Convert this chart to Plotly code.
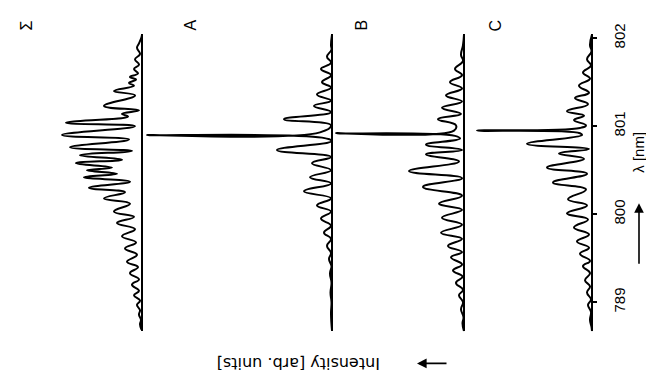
import plotly.graph_objects as go

# Wavelength (nm) and intensity (arb. units) of each emission spectrum
lam_sum = [802.04, 802.01, 801.94, 801.89, 801.82, 801.76, 801.70, 801.65, 801.60, 801.56,
           801.53, 801.49, 801.46, 801.40, 801.35, 801.23, 801.18, 801.14, 801.11, 801.04,
           801.00, 800.90, 800.85, 800.76, 800.72, 800.67, 800.62, 800.58, 800.53, 800.50,
           800.46, 800.42, 800.37, 800.30, 800.25, 800.18, 800.12, 800.03, 799.97, 799.90,
           799.83, 799.75, 799.68, 799.61, 799.54, 799.46, 799.40, 799.33, 799.26, 799.20,
           799.13, 799.08, 799.02, 798.97, 798.91, 798.86, 798.80, 798.75, 798.69]
int_sum = [0, 0.5, 3, 5, 2, 7, 3, 8, 4, 12,
           6, 13, 8, 28, 7, 38, 3, 20, 14, 76,
           7, 80, 13, 72, 10, 62, 20, 66, 30, 55,
           25, 58, 12, 53, 17, 38, 12, 28, 8, 25,
           7, 20, 6, 17, 5, 15, 4, 12, 3, 10,
           3, 8, 2, 5, 2, 3, 1, 2, 0.5]

lam_a = [802.04, 801.92, 801.87, 801.79, 801.72, 801.65, 801.58, 801.50, 801.44, 801.36,
         801.29, 801.23, 801.16, 801.08, 801.01, 800.93, 800.90, 800.87, 800.83, 800.73,
         800.65, 800.58, 800.50, 800.42, 800.35, 800.26, 800.18, 800.10, 800.03, 799.95,
         799.87, 799.79, 799.72, 799.64, 799.56, 799.49, 799.41, 799.33, 799.22, 799.11,
         799.00, 798.87, 798.68]
int_a = [0, 1, 0.5, 5, 1, 11, 1, 10, 1, 15,
         1, 18, 1, 48, 1, 12, 185, 10, 0.5, 55,
         1, 20, 1, 22, 1, 28, 1, 15, 1, 11,
         1, 8, 1, 5, 1, 3, 0.5, 2, 0.5, 1.5,
         0.5, 1, 0]

lam_b = [802.04, 801.92, 801.81, 801.74, 801.65, 801.58, 801.50, 801.43, 801.35, 801.28,
         801.21, 801.14, 801.08, 801.01, 800.95, 800.92, 800.89, 800.86, 800.79, 800.73,
         800.68, 800.60, 800.49, 800.41, 800.31, 800.21, 800.12, 800.05, 799.96, 799.88,
         799.79, 799.72, 799.64, 799.57, 799.51, 799.43, 799.36, 799.29, 799.22, 799.14,
         799.08, 799.00, 798.92, 798.83, 798.76, 798.67]
int_b = [0, 1, 3, 1, 9, 2, 14, 2, 18, 2,
         22, 3, 26, 8, 10, 128, 9, 4, 38, 2,
         38, 5, 55, 2, 41, 2, 25, 2, 22, 2,
         23, 2, 16, 2, 13, 2, 11, 1.5, 8, 1,
         5, 1, 3, 0.5, 1.5, 0]

lam_c = [802.04, 801.92, 801.85, 801.76, 801.69, 801.61, 801.54, 801.46, 801.38, 801.32,
         801.25, 801.17, 801.12, 801.07, 801.01, 800.98, 800.95, 800.92, 800.90, 800.80,
         800.74, 800.69, 800.63, 800.53, 800.46, 800.36, 800.28, 800.17, 800.10, 800.01,
         799.94, 799.85, 799.77, 799.69, 799.62, 799.55, 799.47, 799.41, 799.33, 799.25,
         799.18, 799.11, 799.03, 798.97, 798.89, 798.80, 798.72, 798.67]
int_c = [0, 2, 0.5, 5, 1, 9, 2, 13, 3, 17,
         4, 25, 8, 18, 6, 12, 115, 12, 10, 65,
         3, 33, 8, 45, 5, 39, 6, 24, 5, 25,
         4, 18, 3, 15, 3, 12, 2, 9, 2, 7,
         2, 5, 1, 4, 1, 2, 0.5, 0]

# Panel labels and wavelength tick labels
panel_names = ["Σ", "A", "B", "C"]
tick_vals = [799, 800, 801, 802]
tick_text = ["789", "800", "801", "802"]

W, H = 646, 377
FONT = "Liberation Sans, Arial, sans-serif"

spectra = [(lam_sum, int_sum), (lam_a, int_a), (lam_b, int_b), (lam_c, int_c)]
# horizontal extent (px) of each panel; intensity grows to the left
panel_px = [(0, 143), (143, 333), (333, 465), (465, 593)]
PAD = 1  # px between baseline and right edge of each panel

fig = go.Figure()
layout_axes = {}
for i, ((lam, inten), (x0, x1)) in enumerate(zip(spectra, panel_px)):
    ax_id = "x" if i == 0 else f"x{i + 1}"
    ax_key = "xaxis" if i == 0 else f"xaxis{i + 1}"
    fig.add_trace(go.Scatter(
        x=inten, y=lam, mode="lines", xaxis=ax_id, yaxis="y",
        line=dict(color="black", width=2, shape="spline", smoothing=1.3),
        showlegend=False, hoverinfo="skip",
    ))
    span = (x1 - x0) - PAD
    layout_axes[ax_key] = dict(
        domain=[x0 / W, x1 / W], anchor="y",
        range=[span, -PAD], showgrid=False, showline=False,
        showticklabels=False, ticks="",
        zeroline=True, zerolinecolor="black", zerolinewidth=2,
    )

base_c = (panel_px[3][1] - PAD) / W
y_top, y_bot = 24, 330
fig.update_layout(
    width=W, height=H,
    margin=dict(l=0, r=0, t=0, b=0),
    paper_bgcolor="white", plot_bgcolor="white",
    font=dict(family=FONT, color="black", size=14),
    yaxis=dict(
        domain=[(H - y_bot) / H, (H - y_top) / H],
        range=[798.669, 802.044],
        anchor="free", position=base_c, side="right",
        tickvals=tick_vals, ticktext=tick_text, tickangle=-90,
        ticks="outside", ticklen=4, tickwidth=1.5, tickcolor="black",
        ticklabelstandoff=10,
        tickfont=dict(family=FONT, size=15, color="black"),
        showgrid=False, zeroline=False, showline=False,
    ),
    **layout_axes,
)

# panel labels above each baseline
label_x = [27, 191, 362, 496]
for name, lx in zip(panel_names, label_x):
    fig.add_annotation(x=lx / W, y=(H - 15) / H, xref="paper", yref="paper",
                       xanchor="center", yanchor="middle",
                       text=name, showarrow=False, textangle=-90,
                       font=dict(family=FONT, size=16, color="black"))

# wavelength axis title with arrow
fig.add_annotation(x=639 / W, y=(H - 146) / H, xref="paper", yref="paper",
                   xanchor="center", yanchor="middle",
                   text="λ [nm]", showarrow=False, textangle=-90,
                   font=dict(family=FONT, size=15, color="black"))
fig.add_annotation(x=639 / W, y=(H - 198) / H, xref="paper", yref="paper",
                   text="", showarrow=True, ax=0, ay=62,
                   arrowhead=2, arrowsize=1.2, arrowwidth=1.6, arrowcolor="black")

# intensity axis title with arrow
fig.add_annotation(x=299 / W, y=(H - 363) / H, xref="paper", yref="paper",
                   xanchor="center", yanchor="middle",
                   text="Intensity [arb. units]", showarrow=False, textangle=180,
                   font=dict(family="DejaVu Sans, sans-serif", size=16, color="black"))
fig.add_annotation(x=417 / W, y=(H - 363) / H, xref="paper", yref="paper",
                   text="", showarrow=True, ax=31, ay=0,
                   arrowhead=2, arrowsize=1.2, arrowwidth=1.6, arrowcolor="black")

fig.write_html("out.html")
